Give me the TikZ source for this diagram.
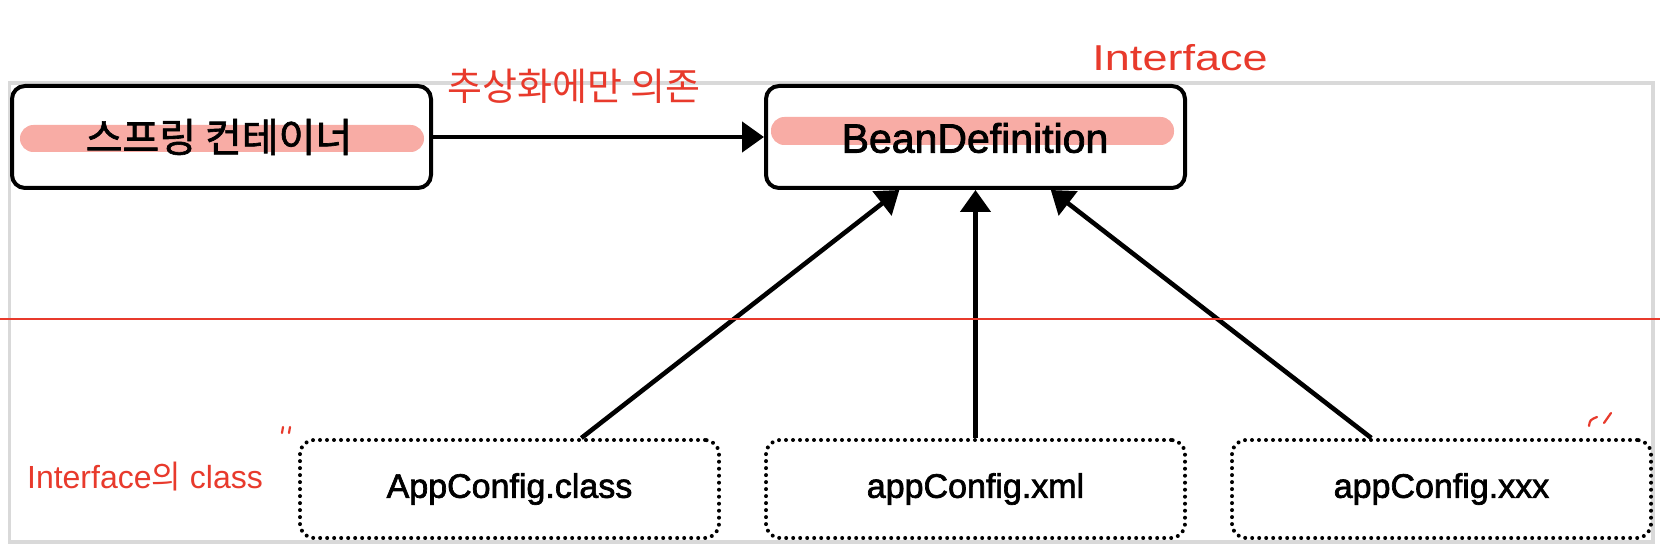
\documentclass[tikz,border=0pt]{standalone}
\usepackage{fontspec}
\setmainfont{Liberation Sans}
\newfontfamily\kr{Noto Sans CJK KR}
\newfontfamily\heavy[FakeBold=2]{Liberation Sans}
\newfontfamily\krheavy[FakeBold=1.6]{Noto Sans CJK KR}
\usetikzlibrary{arrows.meta,calc}
\definecolor{pinkbar}{RGB}{248,172,165}
\definecolor{hand}{RGB}{232,58,44}
\definecolor{framegray}{RGB}{217,217,217}
\begin{document}
\begin{tikzpicture}[x=0.5pt,y=-0.5pt,
  solidbox/.style={draw=black, line width=2pt, rounded corners=6.5pt, fill=white,
    minimum width=209.5pt, minimum height=51pt, inner sep=0pt},
  dotbox/.style={draw=black, line width=2pt, dash pattern=on 0pt off 3.5pt, line cap=round,
    rounded corners=7pt, fill=white, minimum width=209.5pt, minimum height=49pt, inner sep=0pt,
    font=\heavy\fontsize{17}{20}\selectfont},
  conn/.style={draw=black, line width=2.3pt, line join=round,
    -{Triangle[length=11pt,width=15pt]}},
  handtxt/.style={text=hand, inner sep=0pt},
  handline/.style={draw=hand, line width=1.1pt, line cap=round}
]
\useasboundingbox (0,0) rectangle (1660,544);
\fill[white] (0,0) rectangle (1660,544);
% frame
\draw[framegray, line width=1.6pt] (9.5,83) rectangle (1653,542);

% top boxes
\node[solidbox] (spring) at (221.5,137) {};
\node[solidbox] (bean) at (975.5,137) {};
\fill[pinkbar, rounded corners=6.7pt] (20,125) rectangle (424,152);
\fill[pinkbar, rounded corners=6.7pt] (771,117) rectangle (1174,145);
\node[font=\krheavy\fontsize{20}{24}\selectfont, inner sep=0pt] (springtxt) at (219,137) {스프링 컨테이너};
\node[font=\heavy\fontsize{20.5}{24}\selectfont, inner sep=0pt] (beantxt) at (975,138) {BeanDefinition};

% bottom boxes
\node[dotbox] (appclass) at (509.5,489) {AppConfig.class};
\node[dotbox] (appxml) at (975.5,489) {appConfig.xml};
\node[dotbox] (appxxx) at (1441.5,489) {appConfig.xxx};

% connectors
\draw[conn] (spring.east) -- (bean.west);
\draw[conn] ($(appclass.north west)!0.67!(appclass.north east)$) -- ($(bean.south west)!0.32!(bean.south east)$);
\draw[conn] (appxml.north) -- (bean.south);
\draw[conn] ($(appxxx.north west)!0.334!(appxxx.north east)$) -- ($(bean.south west)!0.678!(bean.south east)$);

% red line
\coordinate (redL) at (0,319);
\coordinate (redR) at (1660,319);
\draw[hand, line width=1.4pt] (redL) -- (redR);

% handwritten notes
\node[handtxt, font=\kr\fontsize{19}{21}\selectfont] (abs) at (574,86) {추상화에만 의존};
\node[handtxt, font=\fontsize{18}{20}\selectfont] (iface) at (1180,58) {\scalebox{1.25}[1]{Interface}};
\node[handtxt, font=\fontsize{16}{18}\selectfont] (ifclass) at (145,477) {Interface{\kr 의} class};

% ditto marks
\draw[handline] (283,427) -- (282,433);
\draw[handline] (290,427) -- (289,433);
\draw[handline] (1597,417) .. controls (1590,420) .. (1589,426);
\draw[handline] (1611,413) -- (1604,423);
\end{tikzpicture}
\end{document}
